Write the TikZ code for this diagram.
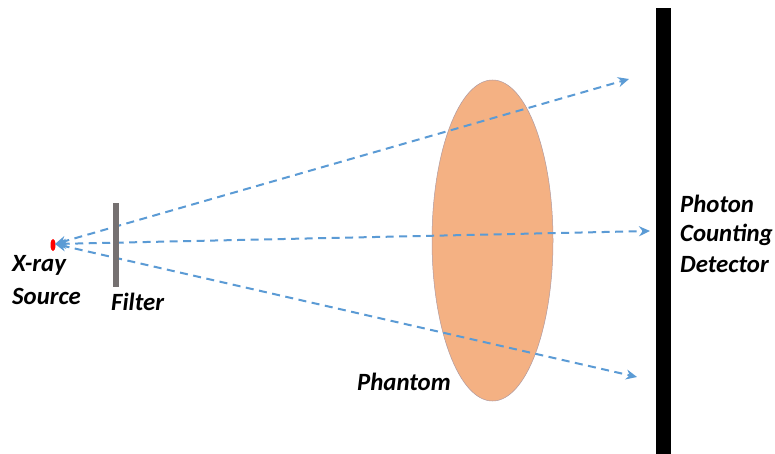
\documentclass[tikz,border=0pt]{standalone}
\usepackage{fontspec}
\setmainfont{Carlito}
\usetikzlibrary{shapes.geometric,arrows.meta}
\definecolor{ray}{HTML}{5B9BD5}
\definecolor{phantomfill}{HTML}{F4B183}
\definecolor{phantomedge}{HTML}{B09AA0}
\definecolor{filtergray}{HTML}{767171}
\tikzset{
  lbl/.style={font=\fontsize{24.8}{30}\selectfont\bfseries\itshape,text=black,inner sep=0pt,align=left},
  beam/.style={draw=ray,line width=2pt,dash pattern=on 8pt off 5.5pt,{Stealth[length=11pt,width=10pt]}-{Stealth[length=11pt,width=10pt]}}
}
\begin{document}
\begin{tikzpicture}[x=1pt,y=-1pt]
\useasboundingbox (0,0) rectangle (775,454);
\fill[white] (0,0) rectangle (775,454);
\node[ellipse,draw=phantomedge,line width=0.5pt,fill=phantomfill,minimum width=121pt,minimum height=321pt,inner sep=0pt] (phantom) at (492.5,240.5) {};
\node[rectangle,fill=black,minimum width=15pt,minimum height=446pt,inner sep=0pt] (detector) at (663.5,231) {};
\node[ellipse,fill=red,minimum width=5pt,minimum height=12pt,inner sep=0pt] (source) at (53,245) {};
\coordinate (origin) at (55,244);
\coordinate (top) at (629,79);
\coordinate (mid) at (650,231);
\coordinate (bot) at (637,377);
\draw[beam] (origin) -- (top);
\draw[beam] (origin) -- (mid);
\draw[beam] (origin) -- (bot);
\node[rectangle,fill=filtergray,minimum width=6.5pt,minimum height=84pt,inner sep=0pt] (filter) at (116,245) {};
\node[lbl,anchor=west] (xray) at (12,265) {X-ray};
\node[lbl,anchor=west] (src) at (12,296) {Source};
\node[lbl,anchor=west] (filterl) at (111,302) {Filter};
\node[lbl,anchor=west] (phantoml) at (357,382) {Phantom};
\node[lbl,anchor=west] (ph) at (680,204) {Photon};
\node[lbl,anchor=west] (co) at (680,235) {Counting};
\node[lbl,anchor=west] (de) at (680,265) {Detector};
\end{tikzpicture}
\end{document}
